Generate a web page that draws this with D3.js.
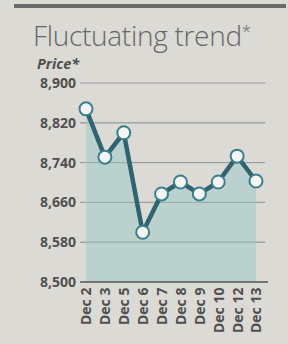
<!DOCTYPE html>
<html>
<head>
<meta charset="utf-8">
<script src="https://cdn.jsdelivr.net/npm/d3@7"></script>
<style>
  body { margin: 0; background: #dcdad5; }
  svg { display: block; }
</style>
</head>
<body>
<script>
// values
const dates = ["Dec 2", "Dec 3", "Dec 5", "Dec 6", "Dec 7", "Dec 8", "Dec 9", "Dec 10", "Dec 12", "Dec 13"];
const prices = [8848, 8751, 8800, 8600, 8677, 8701, 8677, 8701, 8753, 8703];
const yTicks = [8500, 8580, 8660, 8740, 8820, 8900];

const width = 288, height = 344;
const marginLeft = 80, marginRight = 23;
const yTop = 83, yBottom = 282;

const svg = d3.select("body").append("svg")
    .attr("width", width)
    .attr("height", height);

// top rule
svg.append("rect")
    .attr("x", 14).attr("y", 4)
    .attr("width", 272).attr("height", 4)
    .attr("fill", "#6a6a6a");

svg.append("text") //title
    .text("Fluctuating trend")
    .attr("x", 33).attr("y", 46)
    .attr("font-family", "'Open Sans', sans-serif")
    .attr("font-weight", 300)
    .attr("font-size", "28px")
    .attr("letter-spacing", "-0.3px")
    .attr("fill", "#666")
    .append("tspan")
    .text("*")
    .attr("font-size", "17px")
    .attr("dy", "-9");

svg.append("text")
    .text("Price*")
    .attr("x", 37).attr("y", 69)
    .attr("font-family", "'Open Sans', sans-serif")
    .attr("font-style", "italic")
    .attr("font-weight", "bold")
    .attr("font-size", "14.5px")
    .attr("fill", "#505050");

const x = d3.scalePoint()
    .domain(dates)
    .range([86, 256]);

const y = d3.scaleLinear()
    .domain([8500, 8900])
    .range([yBottom, yTop]);

// gridlines
svg.append("g")
    .selectAll("line")
    .data(yTicks.slice(1))
    .join("line")
    .attr("x1", marginLeft).attr("x2", width - marginRight)
    .attr("y1", d => y(d)).attr("y2", d => y(d))
    .attr("stroke", "#9a9a9a")
    .attr("stroke-width", 1);

const area = d3.area()
    .x((d, i) => x(dates[i]))
    .y0(y(8500))
    .y1(d => y(d));

svg.append("path")
    .datum(prices)
    .attr("d", area)
    .attr("fill", "#b4cfcb")
    .attr("opacity", 0.85);

// gridlines drawn faintly over the area too
svg.append("g")
    .selectAll("line")
    .data(yTicks.slice(1, -1))
    .join("line")
    .attr("x1", marginLeft).attr("x2", width - marginRight)
    .attr("y1", d => y(d)).attr("y2", d => y(d))
    .attr("stroke", "#8fa5a2")
    .attr("stroke-width", 0.8);

// baseline
svg.append("line")
    .attr("x1", marginLeft).attr("x2", width - 20)
    .attr("y1", y(8500)).attr("y2", y(8500))
    .attr("stroke", "#555")
    .attr("stroke-width", 1.5);

// y tick labels
const yAxis = d3.axisLeft(y)
    .tickValues(yTicks)
    .tickSize(0)
    .tickPadding(4)
    .tickFormat(d3.format(","));

const yg = svg.append("g")
    .attr("transform", `translate(${marginLeft},0)`)
    .call(yAxis);
yg.select(".domain").remove();
yg.selectAll("text")
    .attr("font-family", "'Open Sans', sans-serif")
    .attr("font-weight", "bold")
    .attr("font-size", "14px")
    .attr("fill", "#505050");

// line
const line = d3.line()
    .x((d, i) => x(dates[i]))
    .y(d => y(d));

svg.append("path")
    .datum(prices)
    .attr("d", line)
    .attr("fill", "none")
    .attr("stroke", "#2f6470")
    .attr("stroke-width", 4.5)
    .attr("stroke-linejoin", "round");

svg.append("g")
    .selectAll("circle")
    .data(prices)
    .join("circle")
    .attr("cx", (d, i) => x(dates[i]))
    .attr("cy", d => y(d))
    .attr("r", 6.5)
    .attr("fill", "#f4f6f5")
    .attr("stroke", "#3c7f8c")
    .attr("stroke-width", 2);

// x labels, rotated
const xAxis = d3.axisBottom(x).tickSize(0).tickPadding(0);
const xg = svg.append("g")
    .attr("transform", `translate(0,${yBottom})`)
    .call(xAxis);
xg.select(".domain").remove();
xg.selectAll("text")
    .attr("font-family", "'Open Sans', sans-serif")
    .attr("font-weight", "bold")
    .attr("font-size", "14px")
    .attr("fill", "#505050")
    .attr("transform", "rotate(-90)")
    .attr("text-anchor", "end")
    .attr("dx", "-0.4em")
    .attr("dy", "0.35em")
    .attr("y", 0);
</script>
</body>
</html>
